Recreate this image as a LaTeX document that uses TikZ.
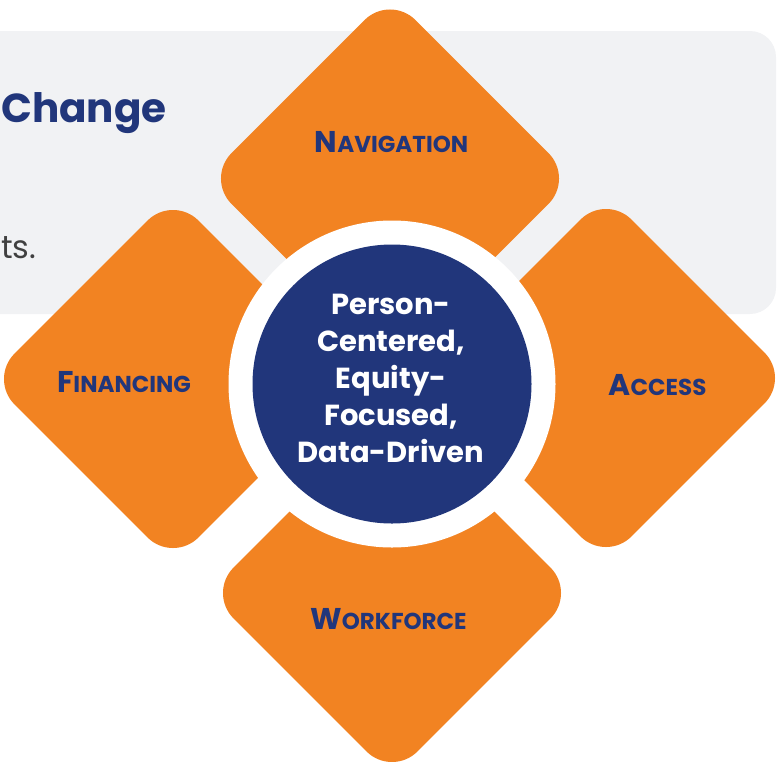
\documentclass[tikz,border=0pt]{standalone}
\usepackage{fontspec}
\setmainfont{Poppins}
\usetikzlibrary{shapes.geometric}

\definecolor{petalorange}{HTML}{F28322}
\definecolor{hubnavy}{HTML}{21367B}
\definecolor{panelgray}{HTML}{F1F2F4}
\newcommand{\capword}[2]{#1{\fontsize{23}{23}\selectfont #2}}

\begin{document}
\begin{tikzpicture}[x=1pt,y=-1pt]
		\tikzstyle{every node}+=[inner sep=0pt]
		\tikzstyle{petal}=[diamond, fill=petalorange, minimum width=368pt, minimum height=368pt, rounded corners=36pt]
		\tikzstyle{pillar}=[anchor=base, text=hubnavy, font=\bfseries\fontsize{30}{30}\selectfont]
		\useasboundingbox (0,0) rectangle (778,761);
		\clip (0,0) rectangle (778,761);
		\fill [panelgray, rounded corners=26pt] (-40,31) rectangle (776,314);
		\node [anchor=base west, text=hubnavy, font=\bfseries\fontsize{40.5}{40.5}\selectfont] (title) at (1,122) {Change};
		\node [anchor=base west, text=black!75, font=\fontsize{32}{32}\selectfont] (tail) at (1,258) {ts.};
		\node [petal] (nav) at (390,178.5) {};
		\node [petal] (fin) at (173,379) {};
		\node [petal] (acc) at (606,378) {};
		\node [petal] (work) at (392,593) {};
		\node [circle, fill=white, minimum size=327pt] (ring) at (392,384) {};
		\node [circle, fill=hubnavy, minimum size=279pt] (hub) at (ring) {};
		\node [text=white, align=center, font=\bfseries\fontsize{29}{37}\selectfont] (core) at (391,378) {Person-\\Centered,\\Equity-\\Focused,\\Data-Driven};
		\node [pillar] (navlabel) at (391.5,152) {\capword{N}{AVIGATION}};
		\node [pillar] (finlabel) at (124,392) {\capword{F}{INANCING}};
		\node [pillar] (acclabel) at (657.5,395) {\capword{A}{CCESS}};
		\node [pillar] (worklabel) at (388.5,629) {\capword{W}{ORKFORCE}};
	\end{tikzpicture}
\end{document}
